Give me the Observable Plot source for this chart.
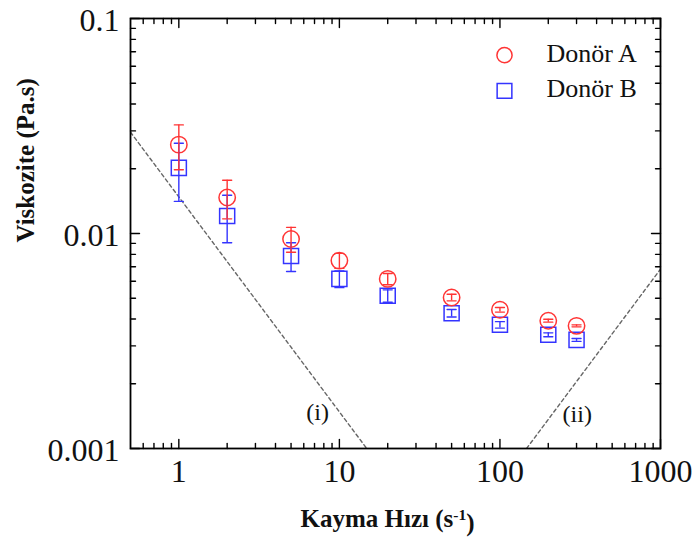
<!DOCTYPE html>
<html><head><meta charset="utf-8">
<script src="https://cdn.jsdelivr.net/npm/d3@7"></script>
<script src="https://cdn.jsdelivr.net/npm/@observablehq/plot@0.6"></script>
<style>body{margin:0;background:#fff}</style>
</head><body><div id="chart"></div>
<script>
// ---- data ----
const shearRate = [1, 2, 5, 10, 20, 50, 100, 200, 300];
const donorA    = [0.0259, 0.0147, 0.00943, 0.00748, 0.00615, 0.00504, 0.00442, 0.00393, 0.00372];
const donorAErr = [0.0061, 0.0030, 0.00125, 0.0006, 0.00037, 0.00018, 0.00011, 0.00006, 0.00004];
const donorB    = [0.0202, 0.01206, 0.00786, 0.00615, 0.00513, 0.00426, 0.00376, 0.00338, 0.00320];
const donorBErr = [0.0061, 0.0030, 0.0012, 0.00055, 0.00034, 0.00017, 0.00013, 0.00007, 0.00005];
const seriesNames = ["Donör A", "Donör B"];
// dashed guide lines
const lineIx = [0.5, 14.8];
const lineIy = [0.0296, 0.001];
const lineIIx = [146.5, 1000];
const lineIIy = [0.001, 0.00683];
const guideLabels = ["(i)", "(ii)"];
const guideLabelX = [7.32, 303];
const guideLabelY = [0.00148, 0.001445];
// ticks
const xMajor = [1, 10, 100, 1000];
const xMinor = [0.6,0.7,0.8,0.9, 2,3,4,5,6,7,8,9, 20,30,40,50,60,70,80,90, 200,300,400,500,600,700,800,900];
const yMajor = [0.001, 0.01, 0.1];
const yMinor = [0.002,0.003,0.004,0.005,0.006,0.007,0.008,0.009, 0.02,0.03,0.04,0.05,0.06,0.07,0.08,0.09];
const xTitle = "Kayma Hızı (s-1)";
const yTitle = "Viskozite (Pa.s)";

// ---- derived tables ----
const rowsA = shearRate.map((x, i) => ({x, y: donorA[i], lo: donorA[i] - donorAErr[i], hi: donorA[i] + donorAErr[i]}));
const rowsB = shearRate.map((x, i) => ({x, y: donorB[i], lo: donorB[i] - donorBErr[i], hi: donorB[i] + donorBErr[i]}));
const capsA = rowsA.flatMap(d => [{x: d.x, y: d.lo}, {x: d.x, y: d.hi}]);
const capsB = rowsB.flatMap(d => [{x: d.x, y: d.lo}, {x: d.x, y: d.hi}]);
const guideI = lineIx.map((x, i) => ({x, y: lineIy[i]}));
const guideII = lineIIx.map((x, i) => ({x, y: lineIIy[i]}));
const guideText = guideLabels.map((t, i) => ({t, x: guideLabelX[i], y: guideLabelY[i]}));

const RED = "#ff3434", BLUE = "#3434ff";
const serif = "'Liberation Serif', 'Times New Roman', serif";
const lineShape = {draw(ctx, l) { ctx.moveTo(0, 0); ctx.lineTo(0, -l); }};

function tickMarks(values, ch, anchor, rotate, len) {
  return Plot.vector(values, {[ch]: d => d, frameAnchor: anchor, rotate, length: len, anchor: "start",
    shape: lineShape, stroke: "#000", strokeWidth: 1.4});
}

const plot = Plot.plot({
  width: 697, height: 538,
  marginLeft: 130, marginRight: 37, marginTop: 18, marginBottom: 90,
  style: {fontFamily: serif, background: "#fff"},
  x: {type: "log", domain: [0.5, 1000], label: null},
  y: {type: "log", domain: [0.001, 0.1], label: null},
  marks: [
    Plot.line(guideI, {x: "x", y: "y", stroke: "#666", strokeWidth: 1.4, strokeDasharray: "3.5,3", clip: true}),
    Plot.line(guideII, {x: "x", y: "y", stroke: "#666", strokeWidth: 1.4, strokeDasharray: "3.5,3", clip: true}),
    Plot.text(guideText, {x: "x", y: "y", text: "t", fontSize: 24, fill: "#111"}),
    Plot.dot(rowsB, {x: "x", y: "y", symbol: "square", r: 8.5, stroke: BLUE, strokeWidth: 1.5, fill: "none"}),
    Plot.dot(rowsA, {x: "x", y: "y", symbol: "circle", r: 8.2, stroke: RED, strokeWidth: 1.5, fill: "none"}),
    Plot.ruleX(rowsB, {x: "x", y1: "lo", y2: "hi", stroke: BLUE, strokeWidth: 1.4}),
    Plot.vector(capsB, {x: "x", y: "y", length: 9, rotate: 90, anchor: "middle", shape: lineShape, stroke: BLUE, strokeWidth: 1.4}),
    Plot.ruleX(rowsA, {x: "x", y1: "lo", y2: "hi", stroke: RED, strokeWidth: 1.4}),
    Plot.vector(capsA, {x: "x", y: "y", length: 9, rotate: 90, anchor: "middle", shape: lineShape, stroke: RED, strokeWidth: 1.4}),
    // inward ticks on all four sides
    tickMarks(xMajor, "x", "bottom", 0, 9),
    tickMarks(xMinor, "x", "bottom", 0, 5),
    tickMarks(xMajor, "x", "top", 180, 9),
    tickMarks(xMinor, "x", "top", 180, 5),
    tickMarks(yMajor, "y", "left", 90, 9),
    tickMarks(yMinor, "y", "left", 90, 5),
    tickMarks(yMajor, "y", "right", -90, 9),
    tickMarks(yMinor, "y", "right", -90, 5),
    Plot.frame({stroke: "#000", strokeWidth: 1.8}),
    Plot.axisX({ticks: xMajor, tickSize: 0, tickPadding: 11, fontSize: 32, tickFormat: d => String(d), label: null, fill: "#111"}),
    Plot.axisY({ticks: yMajor, tickSize: 0, tickPadding: 11, fontSize: 32, tickFormat: d => String(d), label: null, dy: 2, fill: "#111"}),
    // axis titles
    Plot.text([xTitle], {text: d => d, frameAnchor: "bottom", dx: -8, dy: 78, lineAnchor: "bottom", fontSize: 25, fontWeight: "bold", fill: "#111"}),
    Plot.text([yTitle], {text: d => d, frameAnchor: "left", dx: -105, dy: 9, rotate: -90, fontSize: 25, fontWeight: "bold", fill: "#111"}),
    // legend
    Plot.dot([seriesNames[0]], {frameAnchor: "top-right", dx: -156, dy: 36.7, symbol: "circle", r: 7.6, stroke: RED, strokeWidth: 1.5, fill: "none"}),
    Plot.dot([seriesNames[1]], {frameAnchor: "top-right", dx: -156, dy: 72.4, symbol: "square", r: 8.3, stroke: BLUE, strokeWidth: 1.5, fill: "none"}),
    Plot.text([seriesNames[0]], {text: d => d, frameAnchor: "top-right", dx: -114, dy: 43.4, textAnchor: "start", lineAnchor: "bottom", fontSize: 26, fill: "#111"}),
    Plot.text([seriesNames[1]], {text: d => d, frameAnchor: "top-right", dx: -114, dy: 78.4, textAnchor: "start", lineAnchor: "bottom", fontSize: 26, fill: "#111"})
  ]
});

// superscript for s^-1 in the x title
d3.select(plot).selectAll("text").filter(function() { return this.textContent === xTitle; }).each(function() {
  const t = d3.select(this);
  t.text(null);
  t.append("tspan").text("Kayma Hızı (s");
  t.append("tspan").attr("dy", "-0.45em").attr("font-size", "0.62em").text("-1");
  t.append("tspan").attr("dy", "0.45em").text(")");
});

document.getElementById("chart").append(plot);
</script>
</body></html>
